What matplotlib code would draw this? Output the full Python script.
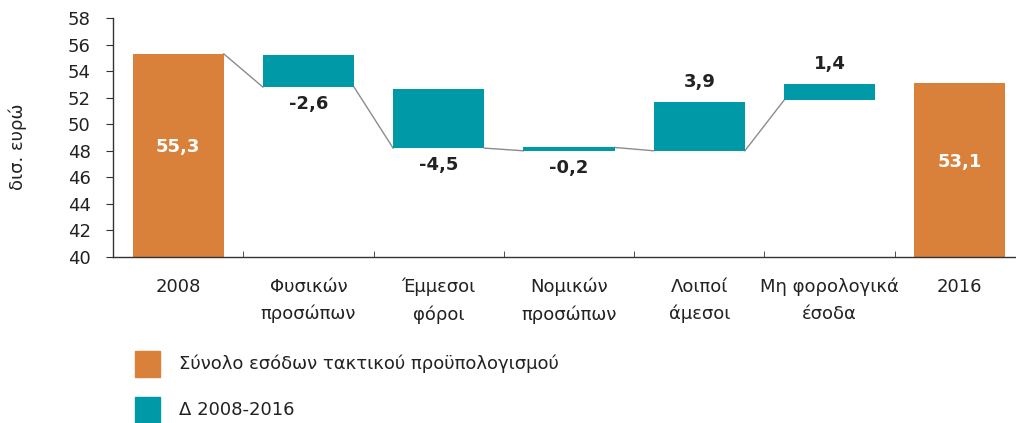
import matplotlib
matplotlib.use("Agg")
import matplotlib.pyplot as plt
from matplotlib.patches import Rectangle

# data (δισ. ευρώ)
categories = ["2008", "Φυσικών\nπροσώπων", "Έμμεσοι\nφόροι", "Νομικών\nπροσώπων",
              "Λοιποί\nάμεσοι", "Μη φορολογικά\nέσοδα", "2016"]
bar_bottom = [40.0, 52.8, 48.2, 48.0, 48.0, 51.8, 40.0]
bar_top = [55.3, 55.2, 52.65, 48.25, 51.67, 53.03, 53.1]
is_total = [True, False, False, False, False, False, True]
value_labels = ["55,3", "-2,6", "-4,5", "-0,2", "3,9", "1,4", "53,1"]
# connector lines: from right edge of bar i to left edge of bar i+1
conn_from = [55.3, 52.8, 48.2, 48.25, 48.0]
conn_to = [52.8, 48.2, 48.0, 48.0, 51.8]
legend_labels = ["Σύνολο εσόδων τακτικού προϋπολογισμού", "Δ 2008-2016"]

ORANGE = "#D9803A"
TEAL = "#0099A8"
TEXT = "#222222"
plt.rcParams["font.family"] = ["DejaVu Sans"]

fig = plt.figure(figsize=(10.16, 4.23), dpi=100)
ax = fig.add_axes([113 / 1016, 1 - 257 / 423, 912 / 1016, 239 / 423])

width = 0.7
xs = list(range(len(categories)))
for x, b, t, tot in zip(xs, bar_bottom, bar_top, is_total):
    ax.bar(x, t - b, bottom=b, width=width, color=ORANGE if tot else TEAL, zorder=2)

for i, (y0, y1) in enumerate(zip(conn_from, conn_to)):
    ax.plot([i + width / 2, i + 1 - width / 2], [y0, y1], color="#8c8c8c", lw=1, zorder=1)

for x, b, t, tot, lab in zip(xs, bar_bottom, bar_top, is_total, value_labels):
    if tot:
        ax.text(x, (b + t) / 2 + 0.6, lab, color="white", fontsize=13, fontweight="bold",
                ha="center", va="center")
    elif lab.startswith("-"):
        ax.annotate(lab, (x, b), xytext=(0, -6), textcoords="offset points", ha="center",
                    va="top", fontsize=13, fontweight="bold", color=TEXT)
    else:
        ax.annotate(lab, (x, t), xytext=(0, 8), textcoords="offset points", ha="center",
                    va="bottom", fontsize=13, fontweight="bold", color=TEXT)

ax.set_xlim(-0.5, len(categories) - 0.5)
ax.set_ylim(40, 58)
ax.set_yticks(range(40, 59, 2))
ax.set_xticks(xs)
ax.set_xticklabels(categories, fontsize=13, color=TEXT, linespacing=1.6)
ax.set_xticks([i + 0.5 for i in xs[:-1]], minor=True)
ax.tick_params(axis="x", which="major", length=0, pad=15)
ax.tick_params(axis="x", which="minor", direction="in", length=4, color="#333333")
ax.tick_params(axis="y", length=5, color="#333333", labelsize=13, labelcolor=TEXT, pad=11)
for s in ["top", "right"]:
    ax.spines[s].set_visible(False)
for s in ["left", "bottom"]:
    ax.spines[s].set_color("#333333")
    ax.spines[s].set_linewidth(1)
ax.set_ylabel("δισ. ευρώ", fontsize=13, color=TEXT)
ax.yaxis.set_label_coords(-86 / 912, 0.46)

# legend drawn by hand under the chart
for i, (lab, col) in enumerate(zip(legend_labels, [ORANGE, TEAL])):
    y_top = 351 + i * 46
    fig.patches.append(Rectangle((135 / 1016, 1 - (y_top + 26) / 423), 25 / 1016, 26 / 423,
                                 transform=fig.transFigure, color=col))
    fig.text(179 / 1016, 1 - (y_top + 13) / 423, lab, fontsize=13, color=TEXT, va="center")

fig.savefig("out.png", dpi=100)
